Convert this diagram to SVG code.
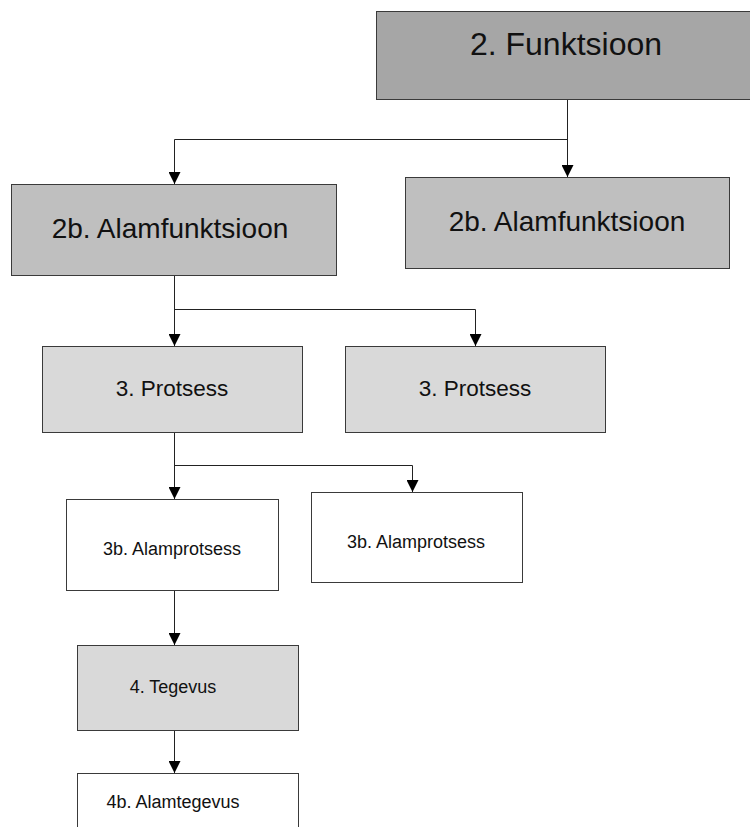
<svg xmlns="http://www.w3.org/2000/svg" width="750" height="827" viewBox="0 0 750 827">
  <style>
    .box { stroke: #3a3a3a; stroke-width: 1; }
    .l1 { fill: #a6a6a6; }
    .l2 { fill: #bfbfbf; }
    .l3 { fill: #d9d9d9; }
    .l4 { fill: #ffffff; }
    .lbl { font-family: "Liberation Sans", Arial, sans-serif; fill: #111; text-anchor: middle; }
    .edge { fill: none; stroke: #222; stroke-width: 1; marker-end: url(#arrow); }
  </style>
  <defs>
    <!-- filled triangle, tip on the line end -->
    <marker id="arrow" markerUnits="userSpaceOnUse" markerWidth="12" markerHeight="12" viewBox="0 0 12 12" refX="12" refY="6" orient="auto">
      <path d="M0,0 L12,6 L0,12 Z" fill="#000"/>
    </marker>
  </defs>

  <g id="connectors">
    <path class="edge" d="M567.5,99 V177"/>
    <path class="edge" d="M567.5,139.5 H174.5 V184"/>
    <path class="edge" d="M174.5,275 V346"/>
    <path class="edge" d="M174.5,309.5 H475.5 V346"/>
    <path class="edge" d="M174.5,432 V499"/>
    <path class="edge" d="M174.5,465.5 H412.5 V492"/>
    <path class="edge" d="M174.5,590 V645"/>
    <path class="edge" d="M174.5,730 V773"/>
  </g>

  <g id="funktsioon">
    <rect class="box l1" x="376.5" y="11.5" width="375" height="88"/>
    <text class="lbl" x="566" y="55" font-size="32">2. Funktsioon</text>
  </g>

  <g id="alamfunktsioon-1">
    <rect class="box l2" x="11.5" y="184.5" width="325" height="91"/>
    <text class="lbl" x="170" y="238" font-size="28">2b. Alamfunktsioon</text>
  </g>

  <g id="alamfunktsioon-2">
    <rect class="box l2" x="405.5" y="177.5" width="324" height="91"/>
    <text class="lbl" x="567" y="231" font-size="28">2b. Alamfunktsioon</text>
  </g>

  <g id="protsess-1">
    <rect class="box l3" x="42.5" y="346.5" width="260" height="86"/>
    <text class="lbl" x="172" y="396" font-size="22.5">3. Protsess</text>
  </g>

  <g id="protsess-2">
    <rect class="box l3" x="345.5" y="346.5" width="260" height="86"/>
    <text class="lbl" x="475" y="396" font-size="22.5">3. Protsess</text>
  </g>

  <g id="alamprotsess-1">
    <rect class="box l4" x="66.5" y="499.5" width="212" height="91"/>
    <text class="lbl" x="172" y="555" font-size="18">3b. Alamprotsess</text>
  </g>

  <g id="alamprotsess-2">
    <rect class="box l4" x="311.5" y="492.5" width="211" height="90"/>
    <text class="lbl" x="416" y="548" font-size="18">3b. Alamprotsess</text>
  </g>

  <g id="tegevus">
    <rect class="box l3" x="77.5" y="645.5" width="221" height="85"/>
    <text class="lbl" x="173" y="693" font-size="18">4. Tegevus</text>
  </g>

  <g id="alamtegevus">
    <rect class="box l4" x="77.5" y="773.5" width="221" height="60"/>
    <text class="lbl" x="173" y="808" font-size="18">4b. Alamtegevus</text>
  </g>
</svg>
